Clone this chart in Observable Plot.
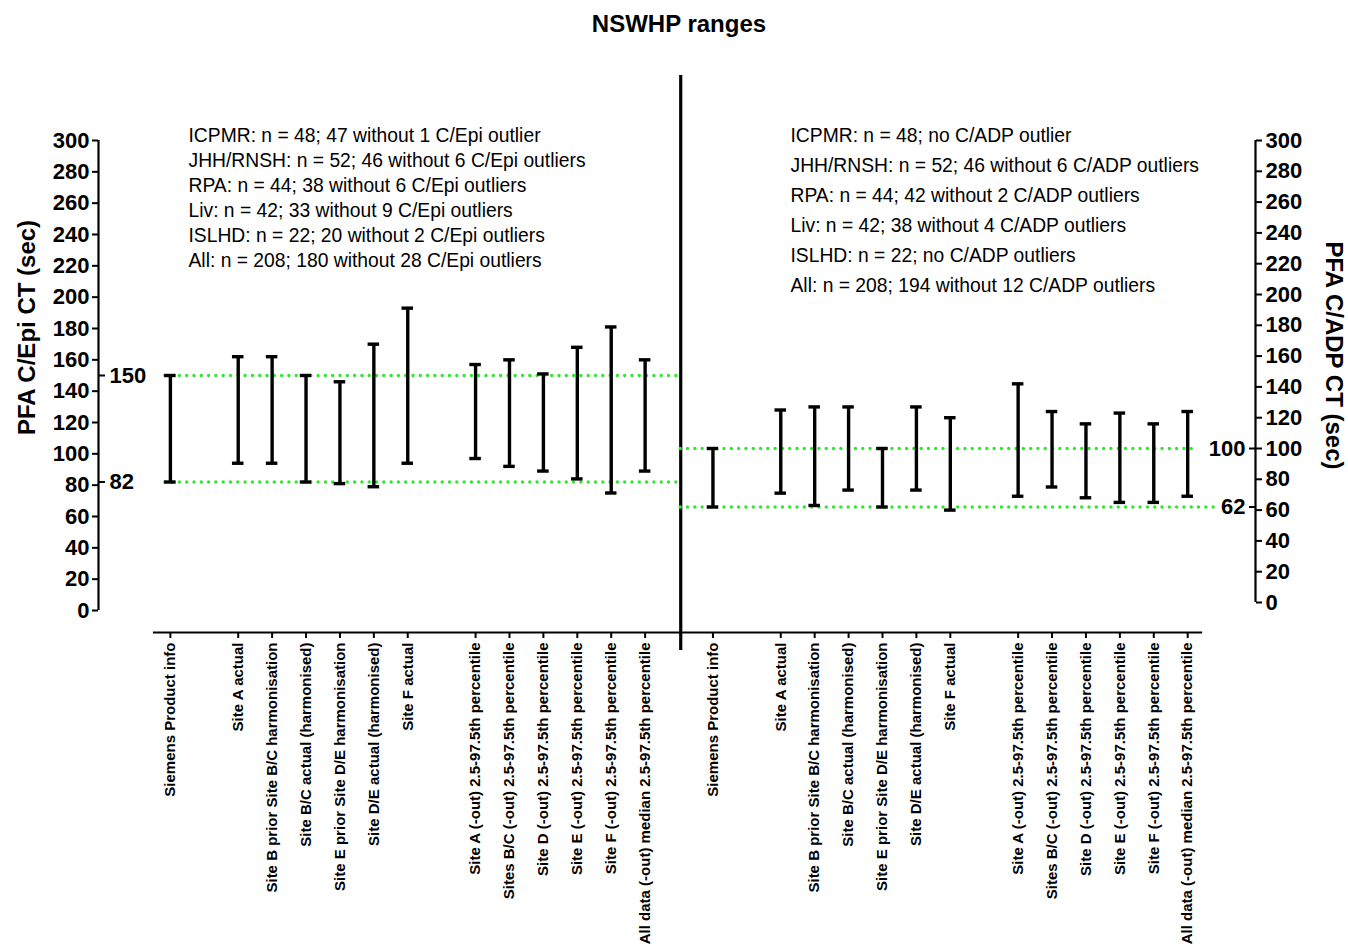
<!DOCTYPE html>
<html>
<head>
<meta charset="utf-8">
<script src="https://cdn.jsdelivr.net/npm/d3@7"></script>
<script src="https://cdn.jsdelivr.net/npm/@observablehq/plot@0.6"></script>
<style>
  html, body { margin: 0; padding: 0; background: #fff; }
  #chart { position: relative; width: 1348px; height: 946px; background: #fff; font-family: "Liberation Sans", Arial, sans-serif; }
  #chart svg { position: absolute; left: 0; top: 0; background: transparent !important; }
  #title { position: absolute; left: 0; top: 10px; width: 1358px; text-align: center; font: bold 24px "Liberation Sans", Arial, sans-serif; color: #000; }
</style>
</head>
<body>
<div id="chart"><div id="title">NSWHP ranges</div></div>
<script>
// ---- categories (null = empty slot in the layout) ----
const layout = [
  "Siemens Product info", null,
  "Site A actual",
  "Site B prior Site B/C harmonisation",
  "Site B/C actual (harmonised)",
  "Site E prior Site D/E harmonisation",
  "Site D/E actual (harmonised)",
  "Site F actual", null,
  "Site A (-out) 2.5-97.5th percentile",
  "Sites B/C (-out) 2.5-97.5th percentile",
  "Site D (-out) 2.5-97.5th percentile",
  "Site E (-out) 2.5-97.5th percentile",
  "Site F (-out) 2.5-97.5th percentile",
  "All data (-out) median 2.5-97.5th percentile"
];
const categories = layout.filter(d => d !== null);

// ---- series values (low, high) ----
const epiLow  = [82, 94, 94, 82, 81, 79, 94, 97, 92, 89, 84, 75, 89];
const epiHigh = [150, 162, 162, 150, 146, 170, 193, 157, 160, 151, 168, 181, 160];
const adpLow  = [62, 71, 63, 73, 62, 73, 60, 69, 75, 68, 65, 65, 69];
const adpHigh = [100, 125, 127, 127, 100, 127, 120, 142, 124, 116, 123, 116, 124];

// ---- reference ranges ----
const epiRefs = [150, 82];
const adpRefs = [100, 62];

// ---- annotations ----
const epiNotes = [
  "ICPMR: n = 48; 47 without 1 C/Epi outlier",
  "JHH/RNSH: n = 52; 46 without 6 C/Epi outliers",
  "RPA: n = 44; 38 without 6 C/Epi outliers",
  "Liv: n = 42; 33 without 9 C/Epi outliers",
  "ISLHD: n = 22; 20 without 2 C/Epi outliers",
  "All: n = 208; 180 without 28 C/Epi outliers"
];
const adpNotes = [
  "ICPMR: n = 48; no C/ADP outlier",
  "JHH/RNSH: n = 52; 46 without 6 C/ADP outliers",
  "RPA: n = 44; 42 without 2 C/ADP outliers",
  "Liv: n = 42; 38 without 4 C/ADP outliers",
  "ISLHD: n = 22; no C/ADP outliers",
  "All: n = 208; 194 without 12 C/ADP outliers"
];

// ---- y ticks ----
const yTicks = d3.range(0, 301, 20);

// ---- layout helpers (slot positions derived from layout order) ----
const panelOffset = layout.length + 1; // right panel starts after a separator slot
const slotOf = new Map(layout.map((d, i) => [d, i]).filter(([d]) => d !== null));
const epiData = categories.map((c, i) => ({cat: c, pos: slotOf.get(c), lo: epiLow[i], hi: epiHigh[i]}));
const adpData = categories.map((c, i) => ({cat: c, pos: slotOf.get(c) + panelOffset, lo: adpLow[i], hi: adpHigh[i]}));
const allTicks = [...epiData, ...adpData];
const labelAt = new Map(allTicks.map(d => [d.pos, d.cat]));
const sepPos = layout.length + 0.05;

const W = 1348, H = 946;
const ML = 98, MR = W - 1255;
const xDomain = [-2.12, 32.0];
const cap = 0.17;
const FONT = "Liberation Sans, Arial, sans-serif";
const green = "#2ee82e";
const dotted = {stroke: green, strokeWidth: 3.4, strokeDasharray: "0 7.3", strokeLinecap: "round"};
const barStyle = {stroke: "#000", strokeWidth: 3.4};
const tickFont = {fontSize: 22, fontWeight: "bold"};

function bars(data) {
  return [
    Plot.ruleX(data, {x: "pos", y1: "lo", y2: "hi", ...barStyle}),
    Plot.ruleY(data, {y: "hi", x1: d => d.pos - cap, x2: d => d.pos + cap, ...barStyle}),
    Plot.ruleY(data, {y: "lo", x1: d => d.pos - cap, x2: d => d.pos + cap, ...barStyle})
  ];
}

// ---------- left panel (C/Epi) ----------
const left = Plot.plot({
  width: W, height: H,
  marginLeft: ML, marginRight: MR, marginTop: 140, marginBottom: H - 610,
  style: {fontFamily: FONT, color: "#000", background: "transparent", overflow: "visible"},
  x: {domain: xDomain, axis: null},
  y: {domain: [0, 300], axis: null},
  marks: [
    Plot.ruleY(epiRefs, {x1: -0.15, x2: sepPos, ...dotted}),
    ...bars(epiData),
    Plot.axisY(yTicks, {anchor: "left", tickSize: 6, tickPadding: 3, ...tickFont, strokeWidth: 2, label: null}),
    Plot.ruleX([xDomain[0]], {y1: 0, y2: 300, stroke: "#000", strokeWidth: 2.2}),
    Plot.axisY(epiRefs, {anchor: "right", dx: -(W - ML - MR), tickSize: 6, tickPadding: 5, ...tickFont, strokeWidth: 2, label: null}),
    Plot.text(["PFA C/Epi CT (sec)"], {frameAnchor: "left", dx: -71, dy: -48, rotate: -90, textAnchor: "middle", fontSize: 24, fontWeight: "bold"}),
    Plot.text([epiNotes.join("\n")], {frameAnchor: "top-left", dx: 90, dy: -16, lineAnchor: "top", textAnchor: "start", fontSize: 19.3, lineHeight: 25 / 19.3}),
    // x axis line, ticks and labels
    Plot.ruleY([0], {x1: -0.5, x2: 30.44, dy: 22, stroke: "#000", strokeWidth: 2.2}),
    Plot.axisX(allTicks.map(d => d.pos), {anchor: "bottom", dy: 22, tickSize: 6, tickPadding: 4, tickRotate: -90, strokeWidth: 2,
      tickFormat: d => labelAt.get(d), fontSize: 15, fontWeight: "bold", label: null}),
    // panel separator
    Plot.ruleX([sepPos], {y1: -25.5, y2: 341.5, stroke: "#000", strokeWidth: 3.2})
  ]
});

// ---------- right panel (C/ADP) ----------
const right = Plot.plot({
  width: W, height: H,
  marginLeft: ML, marginRight: MR, marginTop: 140, marginBottom: H - 602,
  style: {fontFamily: FONT, color: "#000", background: "transparent", overflow: "visible"},
  x: {domain: xDomain, axis: null},
  y: {domain: [0, 300], axis: null},
  marks: [
    Plot.ruleY([adpRefs[0]], {x1: sepPos, x2: 30.24, ...dotted}),
    Plot.ruleY([adpRefs[1]], {x1: sepPos, x2: 30.9, ...dotted}),
    ...bars(adpData),
    Plot.axisY(yTicks, {anchor: "right", tickSize: 6, tickPadding: 4, ...tickFont, strokeWidth: 2, label: null}),
    Plot.ruleX([xDomain[1]], {y1: 0, y2: 300, stroke: "#000", strokeWidth: 2.2}),
    Plot.axisY(adpRefs, {anchor: "left", dx: (W - ML - MR), tickSize: 6, tickPadding: 4, ...tickFont, strokeWidth: 2, label: null}),
    Plot.text(["PFA C/ADP CT (sec)"], {frameAnchor: "right", dx: 78, dy: -16, rotate: 90, textAnchor: "middle", fontSize: 24, fontWeight: "bold"}),
    Plot.text([adpNotes.join("\n")], {frameAnchor: "top-left", dx: 692, dy: -20, lineAnchor: "top", textAnchor: "start", fontSize: 19.3, lineHeight: 30 / 19.3})
  ]
});

const chart = document.getElementById("chart");
chart.appendChild(left);
chart.appendChild(right);
</script>
</body>
</html>
